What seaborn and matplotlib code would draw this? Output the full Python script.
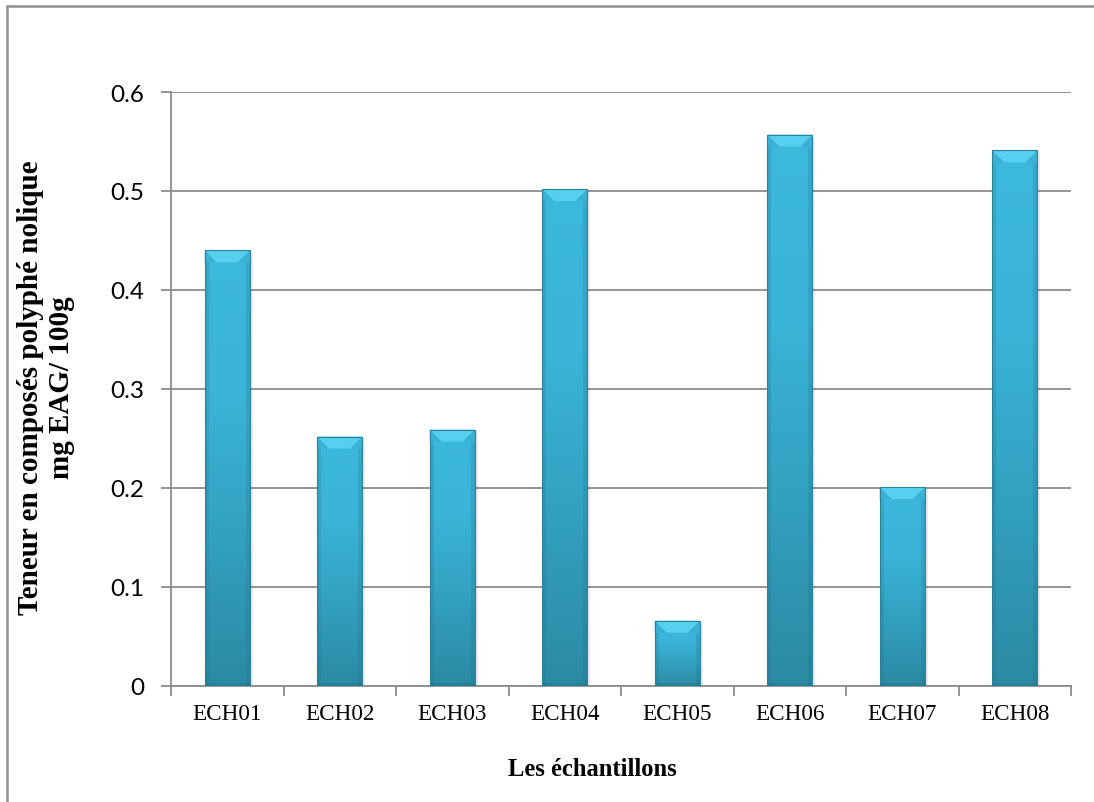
import numpy as np
import matplotlib
matplotlib.use("Agg")
import matplotlib.pyplot as plt
import seaborn as sns
from matplotlib.patches import Polygon, Rectangle
from matplotlib.colors import LinearSegmentedColormap

# Data
samples = ["ECH01", "ECH02", "ECH03", "ECH04", "ECH05", "ECH06", "ECH07", "ECH08"]
values = [0.44, 0.252, 0.259, 0.502, 0.066, 0.557, 0.201, 0.541]
yticks = [0, 0.1, 0.2, 0.3, 0.4, 0.5, 0.6]
ytick_labels = ["0", "0.1", "0.2", "0.3", "0.4", "0.5", "0.6"]

sns.set_theme(style="white")
plt.rcParams["font.family"] = ["Liberation Serif", "DejaVu Serif"]
plt.rcParams["text.color"] = "black"
plt.rcParams["xtick.labelcolor"] = "black"
plt.rcParams["ytick.labelcolor"] = "black"

W, H = 1094, 803
fig = plt.figure(figsize=(W / 100, H / 100), dpi=100)
fig.patch.set_facecolor("white")

left, right, top, bottom = 171, 1071, 93, 687
ax = fig.add_axes([left / W, 1 - bottom / H, (right - left) / W, (bottom - top) / H])

sns.barplot(x=samples, y=values, ax=ax, color="#3BB3D6", saturation=1,
            width=0.4, edgecolor="none", zorder=3)

ax.set_xlim(-0.5, len(samples) - 0.5)
ax.set_ylim(0, 0.6)

# grid and axes
grid_c = "#8c8c8c"
ax.set_yticks(yticks)
ax.set_yticklabels(ytick_labels, fontfamily="Lato", fontsize=17.5, color="black")
ax.yaxis.grid(True, color=grid_c, linewidth=1.3, zorder=0)
ax.set_axisbelow(True)
for s in ["top", "right"]:
    ax.spines[s].set_visible(False)
for s in ["left", "bottom"]:
    ax.spines[s].set_color(grid_c)
    ax.spines[s].set_linewidth(1.3)
ax.tick_params(axis="y", length=7, width=1.3, color=grid_c, pad=12, left=True,
               labelcolor="black")
ax.tick_params(axis="x", which="major", length=0, pad=12, labelsize=16.7,
               labelcolor="black")
ax.set_xticks(np.arange(-0.5, len(samples), 1.0), minor=True)
ax.tick_params(axis="x", which="minor", length=7, width=1.3, color=grid_c, bottom=True)
for lab in ax.get_xticklabels():
    lab.set_fontfamily("Liberation Serif")

ax.set_xlabel("")
ax.set_ylabel("")
fig.text(46 / W, 1 - 388 / H, "Teneur en composés polyphé nolique\nmg EAG/ 100g",
         rotation=90, ha="center", va="center", multialignment="center",
         fontsize=21, fontweight="bold", fontfamily="Liberation Serif",
         linespacing=1.18, color="black")

fig.text(592 / W, 1 - 770 / H, "Les échantillons", ha="center", va="center",
         fontsize=17.7, fontweight="bold", fontfamily="Liberation Serif", color="black")

# Bevelled, shaded bars built on the bar patches
xr = 8.0 / (right - left)     # data units per pixel in x
yr = 0.6 / (bottom - top)     # data units per pixel in y
body = LinearSegmentedColormap.from_list("body", ["#2B8AA3", "#32A0BF", "#3AB4D8", "#3DB9DD"])
grad = np.linspace(0, 1, 256).reshape(-1, 1)
for p in ax.patches:
    x0, w, h = p.get_x(), p.get_width(), p.get_height()
    x1 = x0 + w
    # soft drop shadow
    ax.add_patch(Rectangle((x1, 0), 3 * xr, h - 2 * yr, facecolor="#000000",
                           alpha=0.08, edgecolor="none", zorder=2.5))
    im = ax.imshow(grad, extent=(x0, x1, 0, h), origin="lower", cmap=body,
                   aspect="auto", zorder=3.1, interpolation="bicubic")
    im.set_clip_path(p)
    b = 12 * xr
    bh = 12 * yr
    s = 4 * xr
    # darker side strips
    ax.add_patch(Rectangle((x0, 0), s, h - bh, facecolor="#1F6F86", alpha=0.22,
                           edgecolor="none", zorder=3.2))
    ax.add_patch(Rectangle((x1 - s, 0), s, h - bh, facecolor="#1F6F86", alpha=0.22,
                           edgecolor="none", zorder=3.2))
    ax.add_patch(Rectangle((x0, 0), w, 3 * yr, facecolor="#1F6F86", alpha=0.30,
                           edgecolor="none", zorder=3.2))
    # corner facets
    ax.add_patch(Polygon([(x0, h), (x0 + b, h - bh), (x0, h - bh)], closed=True,
                         facecolor="#3AB0D4", edgecolor="none", zorder=3.3))
    ax.add_patch(Polygon([(x1, h), (x1 - b, h - bh), (x1, h - bh)], closed=True,
                         facecolor="#3AB0D4", edgecolor="none", zorder=3.3))
    # top bevel
    ax.add_patch(Polygon([(x0, h), (x1, h), (x1 - b, h - bh), (x0 + b, h - bh)],
                         closed=True, facecolor="#57CFEF", edgecolor="none", zorder=3.3))
    ax.add_patch(Rectangle((x0, 0), w, h, facecolor="none", edgecolor="#2A8199",
                           linewidth=0.8, zorder=3.4))

ax.set_xlim(-0.5, len(samples) - 0.5)
ax.set_ylim(0, 0.6)

# chart frame
fig.patches.append(Rectangle((7 / W, -0.05), 1.1, 1 - 7 / H + 0.05, transform=fig.transFigure,
                             facecolor="none", edgecolor="#8f8f8f", linewidth=1.8))

fig.savefig("out.png", dpi=100)
